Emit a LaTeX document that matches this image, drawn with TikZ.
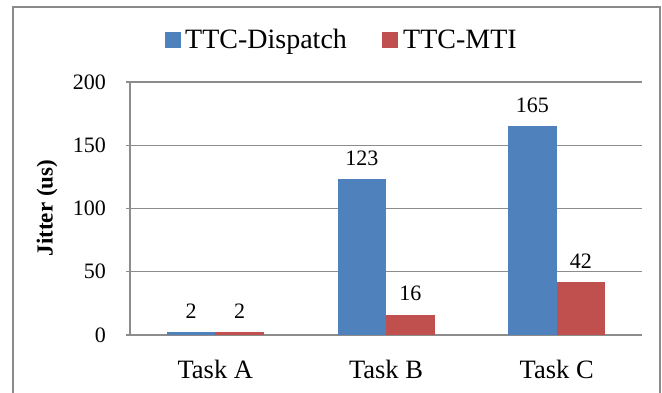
\documentclass[tikz,border=0pt]{standalone}
\usepackage{fontspec}
\setmainfont{Liberation Serif}
\definecolor{barblue}{HTML}{4F81BD}
\definecolor{barred}{HTML}{C0504D}
\definecolor{gridgray}{HTML}{8C8C8C}
\definecolor{framegray}{HTML}{8A8A8A}
\begin{document}
\begin{tikzpicture}[x=1pt,y=1pt,
  gridline/.style={draw=gridgray,line width=1.1pt},
  framel/.style={draw=framegray,line width=1.6pt},
  bluebar/.style={fill=barblue,draw=none},
  redbar/.style={fill=barred,draw=none},
  ticklab/.style={anchor=east,inner sep=0pt,font=\fontsize{22}{24}\selectfont},
  datalab/.style={anchor=center,inner sep=0pt,font=\fontsize{22}{24}\selectfont},
  catlab/.style={anchor=base,inner sep=0pt,font=\fontsize{26.5}{28}\selectfont},
  leglab/.style={anchor=base west,inner sep=0pt,font=\fontsize{28}{30}\selectfont},
  ylab/.style={rotate=90,anchor=center,inner sep=0pt,font=\bfseries\fontsize{23}{25}\selectfont}]
\useasboundingbox (0,0) rectangle (662,392);
\fill[white] (0,0) rectangle (662,392);
% outer frame
\draw[framel] (13,-5) -- (13,385) -- (660,385) -- (660,-5);
% gridlines and ticks
\foreach \v in {0,50,100,150,200}{
  \draw[gridline] (126,{57+1.265*\v}) -- (642,{57+1.265*\v});
  \node[ticklab] (t\v) at (106,{57+1.265*\v}) {\v};
}
\draw[gridline] (130,57) -- (130,310);
% bars
\def\bw{48.5}
\foreach \c/\cx/\b/\r in {A/215.3/2/2,B/386/123/16,C/556.7/165/42}{
  \fill[bluebar] ({\cx-\bw},57) rectangle (\cx,{57+1.265*\b});
  \fill[redbar] (\cx,57) rectangle ({\cx+\bw},{57+1.265*\r});
  \node[datalab] (db\c) at ({\cx-\bw/2},{57+1.265*\b+21}) {\b};
  \node[datalab] (dr\c) at ({\cx+\bw/2},{57+1.265*\r+21}) {\r};
  \node[catlab] (cat\c) at (\cx,14) {Task \c};
}
% axis label
\node[ylab] (ylabel) at (47,184) {Jitter (us)};
% legend
\fill[bluebar] (165,344) rectangle (181,360);
\node[leglab] (leg1) at (185,344) {TTC-Dispatch};
\fill[redbar] (382,344) rectangle (398,360);
\node[leglab] (leg2) at (403,344) {TTC-MTI};
\end{tikzpicture}
\end{document}
